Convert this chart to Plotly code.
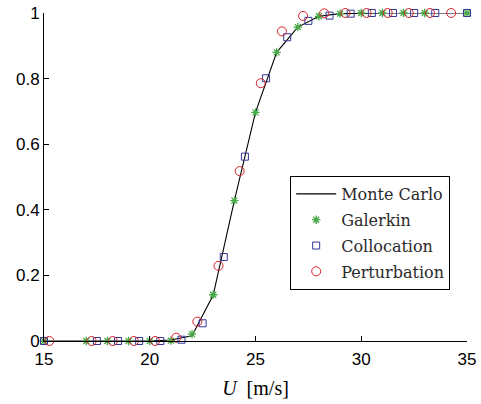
import plotly.graph_objects as go

# Monte Carlo reference curve
mc_u = [15, 16, 17, 18, 19, 20, 21, 22, 23, 24, 25, 26, 27, 28, 29, 30, 31, 32, 33, 34, 35]
mc_p = [0, 0, 0, 0, 0, 0, 0.003, 0.016, 0.14, 0.428, 0.697, 0.88, 0.957, 0.99, 0.998, 1, 1, 1, 1, 1, 1]

gal_u = [15, 17, 18, 19, 20, 21, 22, 23, 24, 25, 26, 27, 28, 29, 30, 31, 32, 33, 35]
gal_p = [0, 0, 0, 0, 0, 0.001, 0.021, 0.141, 0.428, 0.697, 0.88, 0.957, 0.99, 0.998, 1, 1, 1, 1, 1]

col_u = [15, 17.5, 18.5, 19.5, 20.5, 21.5, 22.5, 23.5, 24.5, 25.5, 26.5, 27.5, 28.5, 29.5, 30.5, 31.5, 32.5, 33.5, 35]
col_p = [0, 0, 0, 0, 0, 0.004, 0.054, 0.256, 0.562, 0.801, 0.926, 0.976, 0.992, 0.998, 1, 1, 1, 1, 1]

per_u = [15.25, 17.25, 18.25, 19.25, 20.25, 21.25, 22.25, 23.25, 24.25, 25.25, 26.25, 27.25, 28.25, 29.25, 30.25, 31.25, 32.25, 33.25, 34.25]
per_p = [0, 0, 0, 0, 0, 0.01, 0.059, 0.229, 0.518, 0.786, 0.944, 0.991, 0.999, 1, 1, 1, 1, 1, 1]

x_ticks = [15, 20, 25, 30, 35]
y_ticks = [0, 0.2, 0.4, 0.6, 0.8, 1]

GREEN = "#46a846"
BLUE = "#35359a"
RED = "#d8242c"

fig = go.Figure()
fig.add_trace(go.Scatter(x=mc_u, y=mc_p, mode="lines", name="Monte Carlo",
                         line=dict(color="black", width=1.1), cliponaxis=False,
                         legendgroup="a"))
fig.add_trace(go.Scatter(x=gal_u, y=gal_p, mode="markers", name="Galerkin",
                         marker=dict(symbol="asterisk-open", size=7, color=GREEN,
                                     line=dict(color=GREEN, width=1.3)),
                         cliponaxis=False, legendgroup="b"))
fig.add_trace(go.Scatter(x=col_u, y=col_p, mode="markers", name="Collocation",
                         marker=dict(symbol="square-open", size=7, color=BLUE,
                                     line=dict(color=BLUE, width=1)),
                         cliponaxis=False, legendgroup="c"))
fig.add_trace(go.Scatter(x=per_u, y=per_p, mode="markers", name="Perturbation",
                         marker=dict(symbol="circle-open", size=9, color=RED,
                                     line=dict(color=RED, width=1)),
                         cliponaxis=False, legendgroup="d"))

fig.update_layout(
    width=481, height=404,
    margin=dict(l=44, r=14, t=13, b=63),
    plot_bgcolor="white", paper_bgcolor="white",
    showlegend=True,
    legend=dict(x=0.582, y=0.503, xanchor="left", yanchor="top",
                bgcolor="white", bordercolor="black", borderwidth=1,
                font=dict(family="DejaVu Serif", size=16, color="#2a2a2a"),
                tracegroupgap=2, itemwidth=40),
    font=dict(family="Liberation Sans", size=17, color="black"),
)
fig.update_xaxes(range=[15, 35], tickvals=x_ticks, ticks="inside", ticklen=5,
                 tickcolor="black", showline=True, linecolor="black", linewidth=1,
                 showgrid=False, zeroline=False, automargin=False,
                 ticklabelstandoff=3,
                 title=dict(text="<i>U</i>  [m/s]", font=dict(family="Liberation Serif", size=20), standoff=12))
fig.update_yaxes(range=[0, 1], tickvals=y_ticks, ticks="inside", ticklen=5,
                 tickcolor="black", showline=True, linecolor="black", linewidth=1,
                 showgrid=False, zeroline=False, automargin=False)

fig.write_html("out.html", config={"displayModeBar": False},
               post_script="document.body.style.margin='0';")
